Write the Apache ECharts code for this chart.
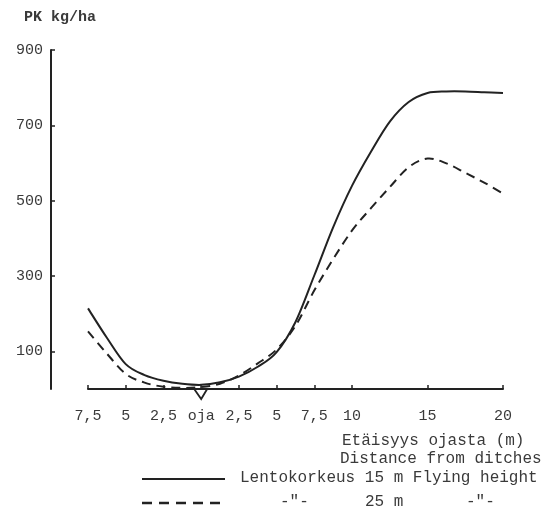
<!DOCTYPE html>
<html>
<head>
<meta charset="utf-8">
<script src="https://cdn.jsdelivr.net/npm/echarts@6/dist/echarts.min.js"></script>
<style>
  html, body { margin: 0; padding: 0; background: #fff; }
  #chart { width: 552px; height: 512px; }
</style>
</head>
<body>
<div id="chart"></div>
<script>
// Distance from the ditch (m); negative values lie on the other side of the ditch
const distances = [-7.5, -6.25, -5, -3.75, -2.5, -1.25, 0, 1.25, 2.5, 3.75, 5, 6.25,
                   7.5, 8.75, 10, 11.25, 12.5, 13.75, 15, 16.25, 17.5, 18.75, 20];
// PK fertiliser amount (kg/ha) at flying height 15 m
const height15 = [214, 136, 66, 37, 22, 14, 11, 18, 33, 59, 98, 178,
                  302, 430, 540, 630, 710, 762, 786, 790, 790, 788, 786];
// PK fertiliser amount (kg/ha) at flying height 25 m
const height25 = [153, 94, 40, 17, 6, 3, 5, 14, 36, 68, 105, 168,
                  262, 345, 421, 480, 536, 589, 612, 599, 574, 548, 519];
// Tick positions
const xTicks = [-7.5, -5, -2.5, 0, 2.5, 5, 7.5, 10, 15, 20];
const yTicks = [100, 300, 500, 700, 900];

const INK = '#222';
const TEXT = '#3a3a3a';
const MONO = '"Liberation Mono", "DejaVu Sans Mono", monospace';

const chart = echarts.init(document.getElementById('chart'), null, { renderer: 'canvas' });

function xLabel(v) {
  if (v === 0) return 'oja';
  return String(Math.abs(v)).replace('.', ',');
}

// Smooth curve through all points (Catmull-Rom converted to cubic Bezier),
// with every point projected through the cartesian axes.
function curveSeries(name, values, dash) {
  const data = distances.map((d, i) => [d, values[i]]);
  return {
    name: name,
    type: 'custom',
    coordinateSystem: 'cartesian2d',
    encode: { x: 0, y: 1 },
    data: data,
    clip: false,
    renderItem: function (params, api) {
      if (params.dataIndex !== 0) return null;
      const pts = data.map(p => api.coord(p));
      let path = 'M' + pts[0][0] + ' ' + pts[0][1];
      for (let i = 0; i < pts.length - 1; i++) {
        const p0 = pts[i - 1] || pts[i];
        const p1 = pts[i];
        const p2 = pts[i + 1];
        const p3 = pts[i + 2] || p2;
        const c1x = p1[0] + (p2[0] - p0[0]) / 6;
        const c1y = p1[1] + (p2[1] - p0[1]) / 6;
        const c2x = p2[0] - (p3[0] - p1[0]) / 6;
        const c2y = p2[1] - (p3[1] - p1[1]) / 6;
        path += ' C' + c1x + ' ' + c1y + ' ' + c2x + ' ' + c2y + ' ' + p2[0] + ' ' + p2[1];
      }
      return {
        type: 'path',
        shape: { pathData: path },
        style: { stroke: INK, lineWidth: 2, fill: 'none', lineDash: dash || null }
      };
    }
  };
}

chart.setOption({
  backgroundColor: '#fff',
  animation: false,
  grid: { left: 88, right: 49, top: 50, bottom: 123 },
  xAxis: {
    type: 'value',
    min: -7.5,
    max: 20,
    axisLine: { show: true, onZero: false, lineStyle: { color: INK, width: 2 } },
    axisTick: { show: true, inside: true, length: 4, customValues: xTicks, lineStyle: { color: INK, width: 1.5 } },
    axisLabel: {
      show: true, customValues: xTicks, margin: 20, formatter: xLabel,
      color: TEXT, fontFamily: MONO, fontSize: 15
    },
    splitLine: { show: false }
  },
  yAxis: {
    type: 'value',
    position: 'left',
    min: 0,
    max: 900,
    offset: 37,
    axisLine: { show: true, onZero: false, lineStyle: { color: INK, width: 2 } },
    axisTick: { show: true, inside: true, length: 4, customValues: yTicks, lineStyle: { color: INK, width: 1.5 } },
    axisLabel: {
      show: true, customValues: yTicks, margin: 8,
      color: TEXT, fontFamily: MONO, fontSize: 15
    },
    splitLine: { show: false }
  },
  series: [
    curveSeries('Lentokorkeus 15 m', height15, null),
    curveSeries('Lentokorkeus 25 m', height25, [9, 6])
  ]
});

// Ditch symbol under the axis, placed at distance 0 via the axis scale
const ditch = chart.convertToPixel({ xAxisIndex: 0, yAxisIndex: 0 }, [0, 0]);
const textStyle = (text, x, y, extra) => Object.assign({
  type: 'text', x: x, y: y,
  style: Object.assign({ text: text, fill: TEXT, font: '16px ' + MONO, textVerticalAlign: 'middle' }, extra || {})
});

chart.setOption({
  graphic: [
    {
      type: 'polyline',
      shape: { points: [[ditch[0] - 7, ditch[1]], [ditch[0], ditch[1] + 10], [ditch[0] + 6, ditch[1]]] },
      style: { stroke: INK, lineWidth: 1.8, fill: null }
    },
    textStyle('PK kg/ha', 24, 17, { font: 'bold 15px ' + MONO }),
    textStyle('Etäisyys ojasta (m)', 342, 441),
    textStyle('Distance from ditches', 340, 459),
    {
      type: 'line',
      shape: { x1: 142, y1: 479, x2: 225, y2: 479 },
      style: { stroke: INK, lineWidth: 2 }
    },
    textStyle('Lentokorkeus 15 m Flying height', 240, 478),
    {
      type: 'line',
      shape: { x1: 142, y1: 503, x2: 222, y2: 503 },
      style: { stroke: INK, lineWidth: 2.5, lineDash: [10, 7] }
    },
    textStyle('-"-', 280, 502),
    textStyle('25 m', 365, 502),
    textStyle('-"-', 466, 502)
  ]
});
</script>
</body>
</html>
